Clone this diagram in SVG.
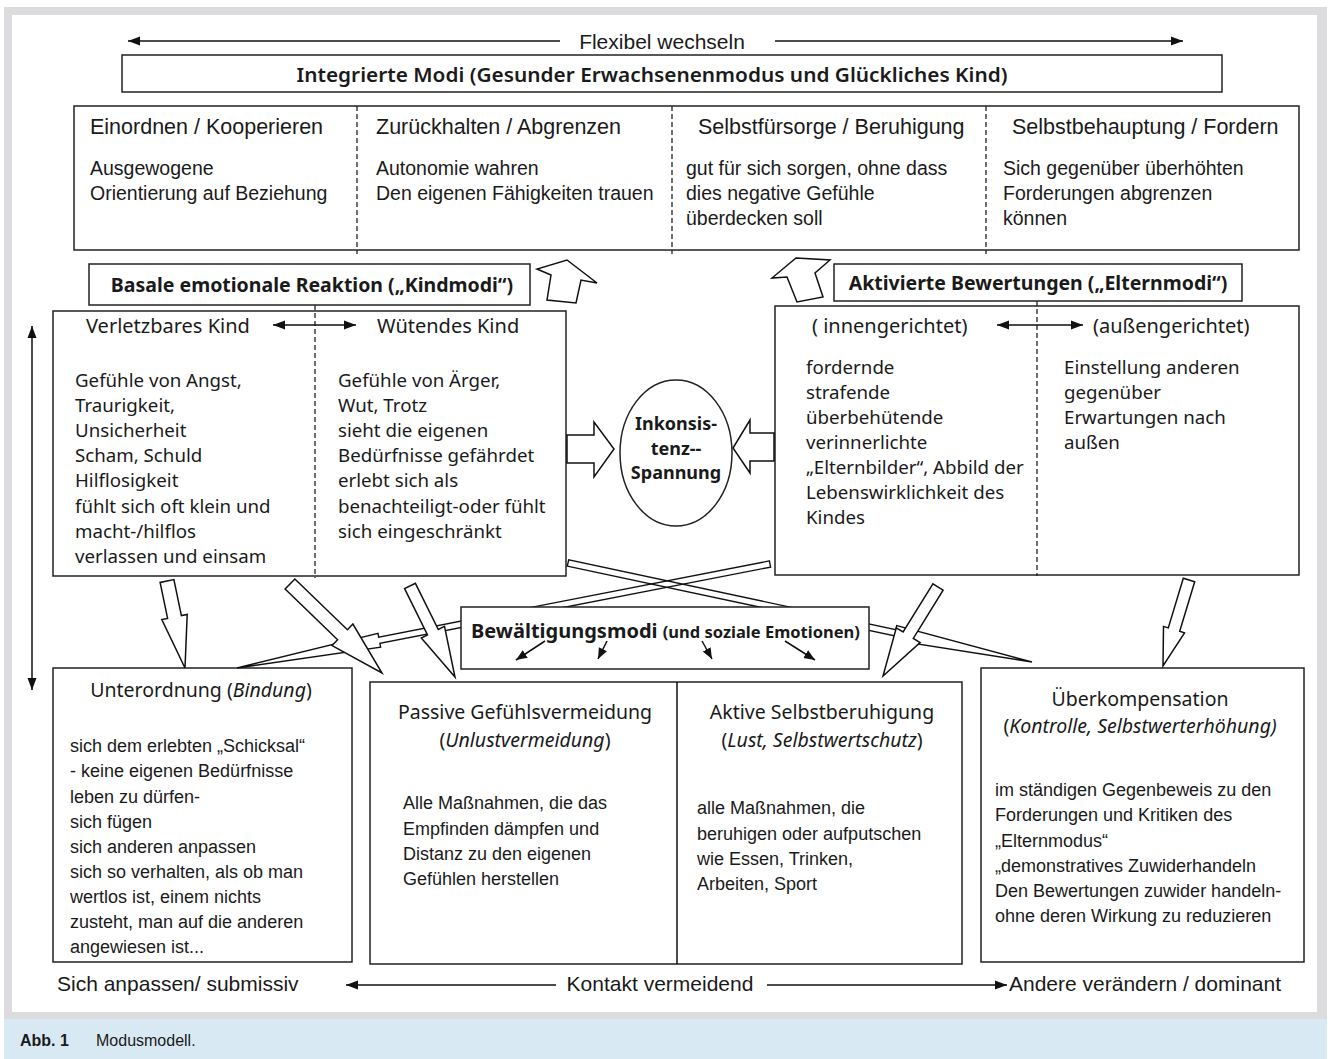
<svg xmlns="http://www.w3.org/2000/svg" width="1330" height="1059" viewBox="0 0 1330 1059">
<defs>
<marker id="ah" markerWidth="12" markerHeight="10" refX="12" refY="5" orient="auto-start-reverse" markerUnits="userSpaceOnUse"><path d="M0,0.5 L12,5 L0,9.5 z" fill="#111"/></marker>
<marker id="sa" markerWidth="11" markerHeight="10" refX="11" refY="5" orient="auto" markerUnits="userSpaceOnUse"><path d="M0,0.5 L11,5 L0,9.5 z" fill="#111"/></marker>
<style>
.box{fill:#fff;stroke:#222;stroke-width:1.5}
.dash{stroke:#222;stroke-width:1.3;stroke-dasharray:5 3;fill:none}
.ln{stroke:#111;stroke-width:1.5;fill:none}
.ha{fill:#fff;stroke:#111;stroke-width:1.5;stroke-linejoin:miter}
.bar{fill:none;stroke:#111;stroke-width:1.4;stroke-linejoin:miter}
.c{font-family:"Liberation Sans",Arial,sans-serif;fill:#1a1a1a}
.w{font-family:"Noto Sans","Open Sans",sans-serif;fill:#1a1a1a}
.b{font-weight:bold}
.i{font-style:italic}
.mid{text-anchor:middle}
</style>
</defs>
<g id="frame">
<rect x="0" y="0" width="1330" height="1059" fill="#fff"/>
<rect x="4" y="7" width="1323" height="1012" fill="#dcdcde"/>
<rect x="12" y="15" width="1305" height="997" fill="#fff"/>
<rect x="4" y="1019" width="1323" height="40" fill="#d9e9f3"/>
<text x="20" y="1046" class="c b" font-size="16">Abb. 1</text>
<text x="96" y="1046" class="c" font-size="16">Modusmodell.</text>
</g>

<g id="flexibel">
<text x="662" y="49" class="c mid" font-size="21">Flexibel wechseln</text>
</g>

<g id="integrierte">
<rect x="122" y="55" width="1100" height="37" class="box"/>
<text x="652" y="82" class="w mid" font-size="19" font-weight="600" textLength="711" lengthAdjust="spacingAndGlyphs">Integrierte Modi  (Gesunder Erwachsenenmodus und Glückliches Kind)</text>
</g>

<g id="gesunde-modi">
<rect x="74" y="106" width="1225" height="144" class="box"/>
<line x1="357" y1="106" x2="357" y2="254" class="dash"/>
<line x1="672" y1="106" x2="672" y2="254" class="dash"/>
<line x1="986" y1="106" x2="986" y2="254" class="dash"/>
<g class="c" font-size="21.5">
<text x="90" y="134">Einordnen / Kooperieren</text>
<text x="376" y="134">Zurückhalten / Abgrenzen</text>
<text x="698" y="134">Selbstfürsorge / Beruhigung</text>
<text x="1012" y="134">Selbstbehauptung / Fordern</text>
</g>
<g class="c" font-size="19.5">
<text x="90" y="175">Ausgewogene</text>
<text x="90" y="200">Orientierung auf Beziehung</text>
<text x="376" y="175">Autonomie wahren</text>
<text x="376" y="200">Den eigenen Fähigkeiten trauen</text>
<text x="686" y="175">gut für sich sorgen, ohne dass</text>
<text x="686" y="200">dies negative Gefühle</text>
<text x="686" y="225">überdecken soll</text>
<text x="1003" y="175">Sich gegenüber überhöhten</text>
<text x="1003" y="200">Forderungen abgrenzen</text>
<text x="1003" y="225">können</text>
</g>
</g>

<g id="basale">
<rect x="89" y="264" width="441" height="41" class="box"/>
<text x="312" y="292" class="w b mid" font-size="19.5">Basale emotionale Reaktion („Kindmodi“)</text>
</g>

<g id="aktivierte">
<rect x="834" y="264" width="408" height="37" class="box"/>
<text x="1038" y="290" class="w b mid" font-size="19.5">Aktivierte Bewertungen („Elternmodi“)</text>
</g>

<g id="kindmodi">
<rect x="53" y="311" width="513" height="265" class="box"/>
<line x1="315" y1="305" x2="315" y2="578" class="dash"/>
<g class="w" font-size="20">
<text x="86" y="333">Verletzbares Kind</text>
<text x="377" y="333">Wütendes Kind</text>
</g>
<g class="w" font-size="18.7">
<text x="75" y="387">Gefühle von Angst,</text>
<text x="75" y="412">Traurigkeit,</text>
<text x="75" y="437">Unsicherheit</text>
<text x="75" y="462">Scham, Schuld</text>
<text x="75" y="487">Hilflosigkeit</text>
<text x="75" y="513">fühlt sich oft klein und</text>
<text x="75" y="538">macht-/hilflos</text>
<text x="75" y="563">verlassen und einsam</text>
<text x="338" y="387">Gefühle von Ärger,</text>
<text x="338" y="412">Wut, Trotz</text>
<text x="338" y="437">sieht die eigenen</text>
<text x="338" y="462">Bedürfnisse gefährdet</text>
<text x="338" y="487">erlebt sich als</text>
<text x="338" y="513">benachteiligt-oder fühlt</text>
<text x="338" y="538">sich eingeschränkt</text>
</g>
</g>

<g id="elternmodi">
<rect x="775" y="306" width="524" height="269" class="box"/>
<line x1="1037" y1="301" x2="1037" y2="576" class="dash"/>
<g class="w" font-size="20">
<text x="812" y="333">( innengerichtet)</text>
<text x="1093" y="333">(außengerichtet)</text>
</g>
<g class="w" font-size="18.7">
<text x="806" y="374">fordernde</text>
<text x="806" y="399">strafende</text>
<text x="806" y="424">überbehütende</text>
<text x="806" y="449">verinnerlichte</text>
<text x="806" y="474">„Elternbilder“, Abbild der</text>
<text x="806" y="499">Lebenswirklichkeit des</text>
<text x="806" y="524">Kindes</text>
<text x="1064" y="374">Einstellung anderen</text>
<text x="1064" y="399">gegenüber</text>
<text x="1064" y="424">Erwartungen nach</text>
<text x="1064" y="449">außen</text>
</g>
</g>

<g id="inkonsistenz">
<ellipse cx="676" cy="453" rx="56" ry="73" class="box"/>
<g class="w b mid" font-size="18">
<text x="676" y="430">Inkonsis-</text>
<text x="676" y="455">tenz--</text>
<text x="676" y="479">Spannung</text>
</g>
</g>

<g id="unterordnung">
<rect x="53" y="668" width="299" height="294" class="box"/>
<text x="201" y="697" class="w mid" font-size="19.5">Unterordnung (<tspan class="i">Bindung</tspan>)</text>
<g class="c" font-size="18">
<text x="70" y="752">sich dem erlebten „Schicksal“</text>
<text x="70" y="777">- keine eigenen Bedürfnisse</text>
<text x="70" y="803">leben zu dürfen-</text>
<text x="70" y="828">sich fügen</text>
<text x="70" y="853">sich anderen anpassen</text>
<text x="70" y="878">sich so verhalten, als ob man</text>
<text x="70" y="903">wertlos ist, einem nichts</text>
<text x="70" y="928">zusteht, man auf die anderen</text>
<text x="70" y="953">angewiesen ist...</text>
</g>
</g>

<g id="vermeidung">
<rect x="370" y="682" width="592" height="282" class="box"/>
<line x1="677" y1="682" x2="677" y2="964" class="ln"/>
<g class="w mid" font-size="19.5">
<text x="525" y="719">Passive Gefühlsvermeidung</text>
<text x="525" y="747">(<tspan class="i">Unlustvermeidung</tspan>)</text>
<text x="822" y="719">Aktive Selbstberuhigung</text>
<text x="822" y="747">(<tspan class="i">Lust, Selbstwertschutz</tspan>)</text>
</g>
<g class="c" font-size="18">
<text x="403" y="809">Alle Maßnahmen, die das</text>
<text x="403" y="835">Empfinden dämpfen und</text>
<text x="403" y="860">Distanz zu den eigenen</text>
<text x="403" y="885">Gefühlen herstellen</text>
<text x="697" y="814">alle Maßnahmen, die</text>
<text x="697" y="840">beruhigen oder aufputschen</text>
<text x="697" y="865">wie Essen, Trinken,</text>
<text x="697" y="890">Arbeiten, Sport</text>
</g>
</g>

<g id="ueberkompensation">
<rect x="981" y="668" width="323" height="294" class="box"/>
<g class="w mid" font-size="19.5">
<text x="1140" y="706">Überkompensation</text>
<text x="1140" y="733">(<tspan class="i">Kontrolle, Selbstwerterhöhung)</tspan></text>
</g>
<g class="c" font-size="18">
<text x="995" y="796">im ständigen Gegenbeweis zu den</text>
<text x="995" y="821">Forderungen und Kritiken des</text>
<text x="995" y="847">„Elternmodus“</text>
<text x="995" y="872">„demonstratives Zuwiderhandeln</text>
<text x="995" y="897">Den Bewertungen zuwider handeln-</text>
<text x="995" y="922">ohne deren Wirkung zu reduzieren</text>
</g>
</g>

<g id="achse">
<text x="57" y="991" class="c" font-size="21">Sich anpassen/ submissiv</text>
<text x="660" y="991" class="c mid" font-size="21">Kontakt vermeidend</text>
<text x="1009" y="991" class="c" font-size="21">Andere verändern / dominant</text>
</g>

<g id="connectors">
<line x1="128" y1="41" x2="560" y2="41" class="ln" marker-start="url(#ah)"/>
<line x1="775" y1="41" x2="1183" y2="41" class="ln" marker-end="url(#ah)"/>
<line x1="32" y1="326" x2="32" y2="690" class="ln" marker-start="url(#ah)" marker-end="url(#ah)"/>
<line x1="273" y1="325" x2="356" y2="325" class="ln" marker-start="url(#ah)" marker-end="url(#ah)"/>
<line x1="997" y1="325" x2="1083" y2="325" class="ln" marker-start="url(#ah)" marker-end="url(#ah)"/>
<line x1="346" y1="985" x2="556" y2="985" class="ln" marker-start="url(#ah)"/>
<line x1="767" y1="985" x2="1007" y2="985" class="ln" marker-end="url(#ah)"/>
<polygon class="bar" points="769.4,560.9 378.7,637.1 378.0,633.3 237,668 380.6,647.1 379.9,643.3 770.6,567.1"/>
<polygon class="bar" points="567.3,566.1 894.4,635.9 893.5,640.1 1032,662 896.7,625.5 895.8,629.7 568.7,559.9"/>
<polygon class="ha" points="160.1,582.4 167.6,618.4 161.8,619.6 185,668 187.2,614.4 181.4,615.6 173.9,579.6"/>
<polygon class="ha" points="285.1,589.0 337.6,639.8 332.1,645.6 382,673 352.9,624.0 347.4,629.8 294.9,579.0"/>
<polygon class="ha" points="404.6,588.7 427.5,634.9 421.3,638.0 455,677 444.5,626.4 438.3,629.5 415.4,583.3"/>
<polygon class="ha" points="932.9,583.8 903.1,632.0 896.3,627.8 883,676 920.1,642.6 913.3,638.4 943.1,590.2"/>
<polygon class="ha" points="1183.3,578.3 1168.3,627.9 1163.5,626.4 1163,666 1184.5,632.8 1179.7,631.3 1194.7,581.7"/>
<polygon class="ha" points="567,435 594,435 594,422 614,449 594,477 594,463 567,463"/>
<polygon class="ha" points="774,433 750,433 750,420 733,448 750,473 750,461 774,461"/>
<polygon class="ha" points="567,260 597,283 581,280 576,303 547,300 551,275 537,269"/>
<polygon class="ha" points="796,258 830,260 815,273 823,297 797,302 787,277 772,278"/>
</g>

<g id="bewaeltigung">
<rect x="461" y="607" width="408" height="62" class="box"/>
<text x="471" y="638" class="w b" font-size="20">Bewältigungsmodi <tspan font-size="16.5">(und soziale Emotionen)</tspan></text>
<line x1="545" y1="641" x2="516" y2="660" class="ln" stroke-width="1.3" marker-end="url(#sa)"/>
<line x1="607" y1="641" x2="598" y2="659" class="ln" stroke-width="1.3" marker-end="url(#sa)"/>
<line x1="702" y1="641" x2="712" y2="659" class="ln" stroke-width="1.3" marker-end="url(#sa)"/>
<line x1="785" y1="641" x2="815" y2="660" class="ln" stroke-width="1.3" marker-end="url(#sa)"/>
</g>
</svg>
